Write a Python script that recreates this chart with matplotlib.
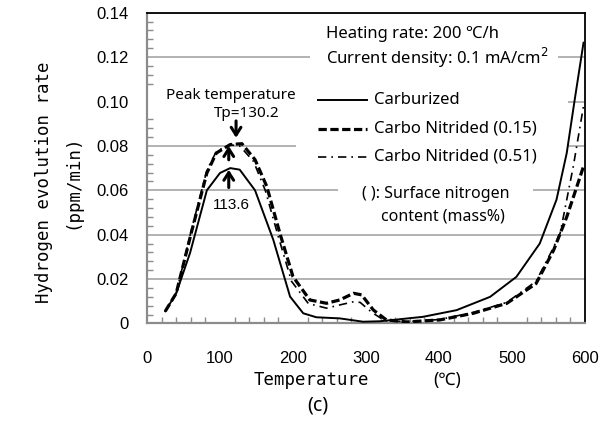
import matplotlib
matplotlib.use("Agg")
import matplotlib.pyplot as plt
from matplotlib.patches import Rectangle

# ---- data ----
carb_T = [25, 40, 59, 82, 100, 114, 127, 148, 173, 196, 214, 232, 264, 296, 319, 337,
          378, 424, 470, 506, 538, 561, 575, 586, 598]
carb_v = [0.0055, 0.0136, 0.0318, 0.060, 0.0678, 0.0700, 0.0693, 0.060, 0.0377, 0.0121,
          0.0046, 0.0028, 0.0023, 0.0008, 0.0010, 0.0016, 0.0030, 0.0060, 0.0120, 0.0210,
          0.0360, 0.0558, 0.0768, 0.1010, 0.1265]

cn15_T = [25, 40, 60, 82, 95, 114, 130, 148, 164, 182, 200, 223, 246, 264, 283, 294,
          310, 328, 356, 401, 447, 493, 533, 557, 575, 589, 598]
cn15_v = [0.0055, 0.0136, 0.040, 0.0678, 0.0768, 0.0806, 0.0810, 0.0738, 0.0618, 0.0407,
          0.0211, 0.0106, 0.0091, 0.0106, 0.0136, 0.0129, 0.0061, 0.0016, 0.0007, 0.0016,
          0.0046, 0.0091, 0.0180, 0.0330, 0.0480, 0.0618, 0.0708]

cn51_T = [25, 40, 60, 82, 95, 113, 127, 146, 162, 180, 198, 221, 246, 266, 283, 292,
          308, 326, 356, 401, 447, 493, 533, 555, 566, 584, 598]
cn51_v = [0.0055, 0.0136, 0.041, 0.0690, 0.0775, 0.0805, 0.0800, 0.0730, 0.0600, 0.0390,
          0.0190, 0.0090, 0.0069, 0.0085, 0.0098, 0.0095, 0.0050, 0.0012, 0.0008, 0.0018,
          0.0050, 0.0095, 0.0190, 0.0330, 0.0407, 0.0708, 0.0980]

labels = ["Carburized", "Carbo Nitrided (0.15)", "Carbo Nitrided (0.51)"]
xticks = [0, 100, 200, 300, 400, 500, 600]
yticks = [0, 0.02, 0.04, 0.06, 0.08, 0.10, 0.12, 0.14]
ytick_labels = ["0", "0.02", "0.04", "0.06", "0.08", "0.10", "0.12", "0.14"]
peak_cn = 130.2
peak_c = 113.6

TXT = ["Noto Sans", "Noto Sans CJK JP", "DejaVu Sans"]
NUM = ["Liberation Sans", "DejaVu Sans"]
MONO = ["DejaVu Sans Mono", "Noto Sans CJK JP"]

fig = plt.figure(figsize=(6.13, 4.40), dpi=100)
ax = fig.add_axes([0.2398, 0.2648, 0.7145, 0.7063])
ax.set_xlim(0, 600)
ax.set_ylim(0, 0.14)

# gridlines
ax.set_axisbelow(True)
ax.yaxis.grid(True, color="#a6a6a6", lw=1.2, zorder=0)
ax.xaxis.grid(False)

# white boxes behind text (interrupt gridlines)
for (x0, x1, y0, y1) in [(223, 563, 0.113, 0.138), (0, 577, 0.093, 0.107),
                         (204, 576, 0.074, 0.107), (262, 529, 0.052, 0.067)]:
    ax.add_patch(Rectangle((x0, y0), x1 - x0, y1 - y0, facecolor="white",
                           edgecolor="none", zorder=1))

# curves
ax.plot(carb_T, carb_v, color="black", lw=1.4, zorder=3)
ax.plot(cn15_T, cn15_v, color="black", lw=2.3, dashes=(2.6, 1.1), zorder=3)
ax.plot(cn51_T, cn51_v, color="black", lw=1.2, dashes=(5, 3, 1, 3), zorder=3)

# spines
for s in ["left", "bottom"]:
    ax.spines[s].set_color("#8c8c8c")
    ax.spines[s].set_linewidth(1.6)
for s in ["top", "right"]:
    ax.spines[s].set_color("black")
    ax.spines[s].set_linewidth(1.3)

# ticks
ax.set_xticks(xticks)
ax.set_xticklabels([str(t) for t in xticks], fontfamily=NUM, fontsize=12)
ax.set_yticks(yticks)
ax.set_yticklabels(ytick_labels, fontfamily=NUM, fontsize=12)
ax.set_xticks(range(0, 601, 20), minor=True)
ax.set_yticks([i * 0.004 for i in range(36)], minor=True)
ax.tick_params(axis="x", which="major", length=0, pad=20)
ax.tick_params(axis="y", which="major", length=0, pad=13)
ax.tick_params(axis="both", which="minor", direction="in", length=4,
               color="#8c8c8c", width=1.0)

# axis labels
ax.text(-0.235, 0.455, "Hydrogen evolution rate", transform=ax.transAxes, rotation=90,
        ha="center", va="center", fontfamily=MONO, fontsize=12.5)
ax.text(-0.171, 0.455, "(ppm/min)", transform=ax.transAxes, rotation=90,
        ha="center", va="center", fontfamily=MONO, fontsize=12.5)
fig.text(311 / 613, 1 - 380 / 440, "Temperature", ha="center", va="center",
         fontfamily=MONO, fontsize=12.5)
fig.text(447 / 613, 1 - 380 / 440, "(℃)", ha="center", va="center",
         fontfamily=TXT, fontsize=12.5)
fig.text(318 / 613, 1 - 405 / 440, "(c)", ha="center", va="center",
         fontfamily=TXT, fontsize=14)

# condition text
ax.text(245, 0.1302, "Heating rate: 200 ℃/h", fontfamily=TXT, fontsize=12,
        ha="left", va="center", zorder=4)
ax.text(245, 0.1195, "Current density: 0.1 mA/cm$^2$", fontfamily=TXT, fontsize=12,
        ha="left", va="center", zorder=4)

# legend (manual)
leg_y = [0.1005, 0.0878, 0.0752]
styles = [dict(lw=1.4), dict(lw=2.3, dashes=(2.6, 1.1)), dict(lw=1.2, dashes=(5, 3, 1, 3))]
for lab, yy, st in zip(labels, leg_y, styles):
    ax.plot([234, 302], [yy, yy], color="black", zorder=4, **st)
    ax.text(311, yy, lab, fontfamily=TXT, fontsize=12, ha="left", va="center", zorder=4)

ax.text(395, 0.0585, "( ): Surface nitrogen", fontfamily=TXT, fontsize=11.5,
        ha="center", va="center", zorder=4)
ax.text(405, 0.0483, "content (mass%)", fontfamily=TXT, fontsize=11.5,
        ha="center", va="center", zorder=4)

# peak annotations
ax.text(115, 0.1025, "Peak temperature", fontfamily=TXT, fontsize=11,
        ha="center", va="center", zorder=4)
ax.text(136, 0.0945, "Tp=%.1f" % peak_cn, fontfamily=TXT, fontsize=11,
        ha="center", va="center", zorder=4)
ax.text(115, 0.0535, "%.1f" % peak_c, fontfamily=NUM, fontsize=11,
        ha="center", va="center", zorder=4)

arrow_kw = dict(arrowstyle="->,head_length=0.55,head_width=0.35", color="black", lw=2.2)
ax.annotate("", xy=(122, 0.0824), xytext=(122, 0.0925), arrowprops=arrow_kw, zorder=5)
ax.annotate("", xy=(112, 0.0812), xytext=(112, 0.0725), arrowprops=arrow_kw, zorder=5)
ax.annotate("", xy=(112, 0.0705), xytext=(112, 0.0600), arrowprops=arrow_kw, zorder=5)

fig.savefig("out.png", dpi=100)
